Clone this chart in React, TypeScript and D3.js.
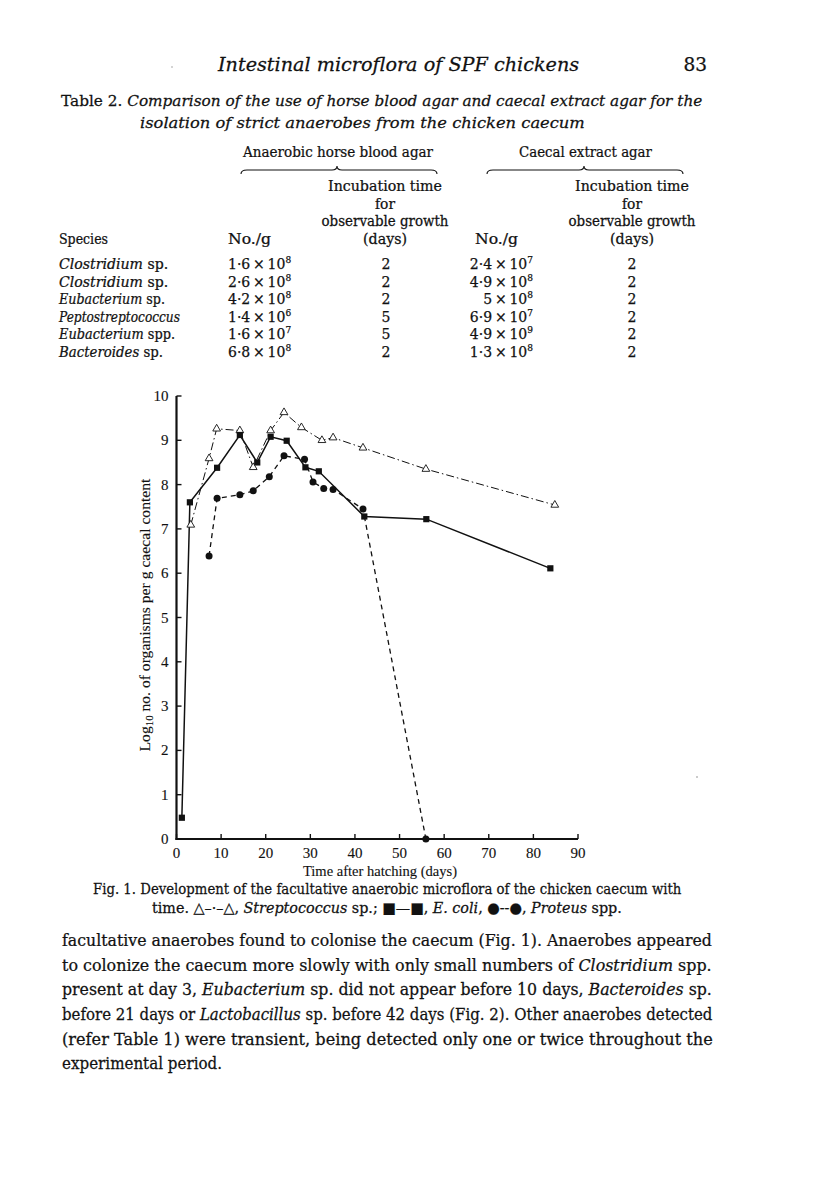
import React, { useLayoutEffect, useRef, useState } from "react";
import * as d3 from "d3";

// ---------- Data ----------
const strepDays = [3.2, 7.3, 9, 14.2, 17.2, 21.1, 24.1, 28, 32.6, 35.1, 41.8, 55.9, 84.8];
const strepVals = [7.09, 8.59, 9.26, 9.22, 8.39, 9.22, 9.63, 9.29, 9.0, 9.06, 8.83, 8.35, 7.54];

const ecoliDays = [1.2, 3.0, 9.1, 14.2, 18.1, 21.1, 24.7, 28.9, 31.9, 42.1, 56, 83.8];
const ecoliVals = [0.48, 7.6, 8.38, 9.12, 8.5, 9.08, 8.99, 8.39, 8.3, 7.28, 7.22, 6.11];

const proteusDays = [7.3, 9.1, 14.2, 17.2, 20.8, 24.1, 28.7, 30.6, 33, 35.1, 41.8, 55.9];
const proteusVals = [6.39, 7.69, 7.77, 7.86, 8.18, 8.65, 8.57, 8.06, 7.91, 7.89, 7.45, 0];

const xTicks = [0, 10, 20, 30, 40, 50, 60, 70, 80, 90];
const yTicks = [0, 1, 2, 3, 4, 5, 6, 7, 8, 9, 10];

const speciesItalic = ["Clostridium", "Clostridium", "Eubacterium", "Peptostreptococcus", "Eubacterium", "Bacteroides"];
const speciesRest = [" sp.", " sp.", " sp.", "", " spp.", " sp."];
const hbMantissa = ["1·6", "2·6", "4·2", "1·4", "1·6", "6·8"];
const hbExp = ["8", "8", "8", "6", "7", "8"];
const hbDays = ["2", "2", "2", "5", "5", "2"];
const ceMantissa = ["2·4", "4·9", "5", "6·9", "4·9", "1·3"];
const ceExp = ["7", "8", "8", "7", "9", "8"];
const ceDays = ["2", "2", "2", "2", "2", "2"];

const bodyLines = [
  "facultative anaerobes found to colonise the caecum (Fig. 1). Anaerobes appeared",
  "to colonize the caecum more slowly with only small numbers of |Clostridium| spp.",
  "present at day 3, |Eubacterium| sp. did not appear before 10 days, |Bacteroides| sp.",
  "before 21 days or |Lactobacillus| sp. before 42 days (Fig. 2). Other anaerobes detected",
  "(refer Table 1) were transient, being detected only one or twice throughout the",
  "experimental period.",
];

// ---------- Layout ----------
const PAGE = "DejaVu Serif";
const CHART = "Liberation Serif";
const INK = "#111";
const speciesWidth = [109, 109, 106, 121, 116, 104];

const x = d3.scaleLinear().domain([0, 90]).range([176.5, 578]);
const y = d3.scaleLinear().domain([0, 10]).range([839, 396]);

function Seg({ s }: { s: string }) {
  const parts = s.split("|");
  return (
    <>
      {parts.map((p, i) => (
        <tspan key={i} fontStyle={i % 2 === 1 ? "italic" : "normal"}>
          {p}
        </tspan>
      ))}
    </>
  );
}

// Text squeezed horizontally (by a transform) to a target width
function FitText(props: any) {
  const { x: tx, y: ty, w, anchor, children, ...rest } = props;
  const ref = useRef<SVGTextElement>(null);
  const [s, setS] = useState(1);
  useLayoutEffect(() => {
    const measure = () => {
      const el = ref.current;
      if (!el) return;
      const len = el.getComputedTextLength();
      if (len > 0) setS(w / len);
    };
    measure();
    if ((document as any).fonts && (document as any).fonts.ready) (document as any).fonts.ready.then(measure);
  }, [w]);
  return (
    <g transform={`translate(${tx},${ty}) scale(${s},1)`}>
      <text ref={ref} x={0} y={0} textAnchor={anchor || "start"} {...rest}>
        {children}
      </text>
    </g>
  );
}

const ink = { stroke: INK, strokeWidth: 0.25 };
const inkLight = { stroke: INK, strokeWidth: 0.12 };

export default function App() {
  const line = d3
    .line<[number, number]>()
    .x((d) => x(d[0]))
    .y((d) => y(d[1]));
  const strep = strepDays.map((d, i) => [d, strepVals[i]] as [number, number]);
  const ecoli = ecoliDays.map((d, i) => [d, ecoliVals[i]] as [number, number]);
  const proteus = proteusDays.map((d, i) => [d, proteusVals[i]] as [number, number]);
  const tri = d3.symbol().type(d3.symbolTriangle).size(26)() as string;

  const rowBase = [269, 286.5, 304, 321.5, 339, 356.5];
  const bodyBase = [946, 971, 995, 1020, 1045, 1069];

  const brace = (x0: number, xm: number, x1: number, yt: number) =>
    `M${x0},${yt + 6} Q${x0},${yt + 2} ${x0 + 6},${yt + 2} L${xm - 5},${yt + 2} Q${xm},${yt + 2} ${xm},${yt - 2} Q${xm},${yt + 2} ${xm + 5},${yt + 2} L${x1 - 6},${yt + 2} Q${x1},${yt + 2} ${x1},${yt + 6}`;

  const TS = "\u2009×\u2009";

  return (
    <svg width={816} height={1178} style={{ position: "absolute", left: 0, top: 0, background: "#fff" }} fill={INK}>
      <rect width={816} height={1178} fill="#fff" />
      <g {...ink}>
        {/* Header */}
        <FitText x={218} y={71} w={361} fontFamily={PAGE} fontStyle="italic" fontSize={18.5}>
          Intestinal microflora of SPF chickens
        </FitText>
        <text x={707} y={71} fontFamily={PAGE} fontSize={18.5} textAnchor="end">
          83
        </text>

        {/* Table title */}
        <FitText x={61} y={106} w={641} fontFamily={PAGE} fontSize={15.5}>
          <Seg s={"Table 2. |Comparison of the use of horse blood agar and caecal extract agar for the"} />
        </FitText>
        <FitText x={140} y={127.5} w={445} fontFamily={PAGE} fontSize={15.5} fontStyle="italic">
          isolation of strict anaerobes from the chicken caecum
        </FitText>

        {/* Column groups */}
        <FitText x={243} y={157} w={190} fontFamily={PAGE} fontSize={14.5}>
          Anaerobic horse blood agar
        </FitText>
        <FitText x={519} y={157} w={133} fontFamily={PAGE} fontSize={14.5}>
          Caecal extract agar
        </FitText>
      </g>
      <path d={brace(241, 337, 437, 168)} fill="none" stroke={INK} strokeWidth={1.1} />
      <path d={brace(487, 584, 683, 168)} fill="none" stroke={INK} strokeWidth={1.1} />

      <g {...ink}>
        {[
          { cx: 385, lines: ["Incubation time", "for", "observable growth", "(days)"] },
          { cx: 632, lines: ["Incubation time", "for", "observable growth", "(days)"] },
        ].map((c, ci) =>
          c.lines.map((t, i) => (
            <FitText
              key={ci + "-" + i}
              x={c.cx}
              y={191 + i * 17.7}
              w={[114, 20, 127, 44][i]}
              anchor="middle"
              fontFamily={PAGE}
              fontSize={14}
            >
              {t}
            </FitText>
          ))
        )}
        <FitText x={59} y={244} w={49} fontFamily={PAGE} fontSize={14}>Species</FitText>
        <FitText x={228} y={244} w={43} fontFamily={PAGE} fontSize={14}>No./g</FitText>
        <FitText x={475} y={244} w={43} fontFamily={PAGE} fontSize={14}>No./g</FitText>

        {rowBase.map((b, i) => (
          <g key={i} fontFamily={PAGE}>
            <FitText x={59} y={b} w={speciesWidth[i]} fontFamily={PAGE} fontSize={14}>
              <tspan fontStyle="italic">{speciesItalic[i]}</tspan>
              <tspan>{speciesRest[i]}</tspan>
            </FitText>
            <text x={228} y={b} fontSize={14}>
              {hbMantissa[i]}{TS}10
              <tspan fontSize={9} dy={-6}>{hbExp[i]}</tspan>
            </text>
            <text x={386} y={b} textAnchor="middle" fontSize={14}>{hbDays[i]}</text>
            <text x={533} y={b} textAnchor="end" fontSize={14}>
              {ceMantissa[i]}{TS}10
              <tspan fontSize={9} dy={-6}>{ceExp[i]}</tspan>
            </text>
            <text x={632} y={b} textAnchor="middle" fontSize={14}>{ceDays[i]}</text>
          </g>
        ))}
      </g>

      {/* ---------- Chart ---------- */}
      <g>
        <line x1={x(0)} x2={x(0)} y1={y(0) + 1} y2={y(10)} stroke={INK} strokeWidth={2.2} />
        <line x1={x(0) - 1} x2={x(90)} y1={y(0)} y2={y(0)} stroke={INK} strokeWidth={2.2} />
        {yTicks.map((t) => (
          <g key={"y" + t}>
            <line x1={x(0)} x2={x(0) + 5} y1={y(t)} y2={y(t)} stroke={INK} strokeWidth={1.4} />
            <text x={x(0) - 8} y={y(t) + 5} textAnchor="end" fontFamily={CHART} fontSize={15} {...inkLight}>
              {t}
            </text>
          </g>
        ))}
        {xTicks.map((t) => (
          <g key={"x" + t}>
            <line x1={x(t)} x2={x(t)} y1={y(0)} y2={y(0) - 5} stroke={INK} strokeWidth={1.4} />
            <text x={x(t)} y={858} textAnchor="middle" fontFamily={CHART} fontSize={15} {...inkLight}>
              {t}
            </text>
          </g>
        ))}
        <g {...inkLight}>
          <FitText x={380} y={875.5} w={154} anchor="middle" fontFamily={CHART} fontSize={14.5}>
            Time after hatching (days)
          </FitText>
          <g transform="translate(150,615) rotate(-90)">
            <FitText x={0} y={0} w={273} anchor="middle" fontFamily={CHART} fontSize={14.5}>
              <tspan>Log</tspan>
              <tspan fontSize={10} dy={3}>10</tspan>
              <tspan dy={-3}> no. of organisms per g caecal content</tspan>
            </FitText>
          </g>
        </g>

        <path d={line(strep) as string} fill="none" stroke={INK} strokeWidth={1} strokeDasharray="8,3,1.5,3" />
        <path d={line(ecoli) as string} fill="none" stroke={INK} strokeWidth={1.5} />
        <path d={line(proteus) as string} fill="none" stroke={INK} strokeWidth={1.3} strokeDasharray="5,4" />

        {strep.map((d, i) => (
          <path key={"t" + i} d={tri} transform={`translate(${x(d[0])},${y(d[1])})`} fill="#fff" stroke={INK} strokeWidth={0.9} />
        ))}
        {ecoli.map((d, i) => (
          <rect key={"s" + i} x={x(d[0]) - 3.1} y={y(d[1]) - 3.1} width={6.2} height={6.2} fill={INK} />
        ))}
        {proteus.map((d, i) => (
          <circle key={"c" + i} cx={x(d[0])} cy={y(d[1])} r={3.5} fill={INK} />
        ))}
      </g>

      <g {...ink}>
        {/* Caption */}
        <FitText x={93} y={894} w={588} fontFamily={PAGE} fontSize={15}>
          Fig. 1. Development of the facultative anaerobic microflora of the chicken caecum with
        </FitText>
        <FitText x={152} y={912.5} w={470} fontFamily={PAGE} fontSize={15}>
          <Seg s={"time. △–·–△, |Streptococcus| sp.; ■—■, |E. coli|, ●--●, |Proteus| spp."} />
        </FitText>

        {/* Body text */}
        {bodyLines.map((l, i) => (
          <FitText
            key={i}
            x={62}
            y={bodyBase[i]}
            w={i < bodyLines.length - 1 ? 650 : 160}
            fontFamily={PAGE}
            fontSize={16.5}
          >
            <Seg s={l} />
          </FitText>
        ))}
      </g>

      <circle cx={172} cy={67} r={0.7} fill="#888" />
      <circle cx={697} cy={777} r={0.8} fill="#888" />
    </svg>
  );
}
